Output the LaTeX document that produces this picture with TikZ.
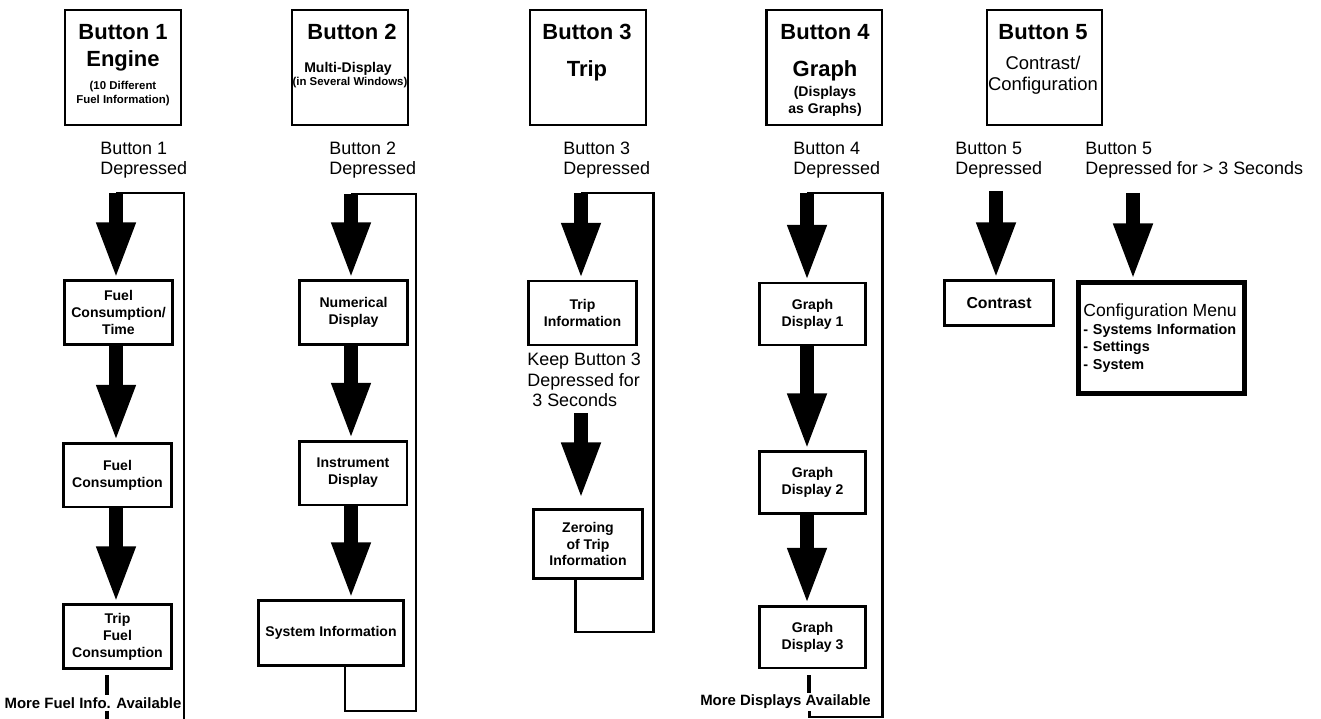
\documentclass[tikz,border=0pt]{standalone}
\usepackage{fontspec}
\setmainfont{Liberation Sans}
\usetikzlibrary{arrows.meta,positioning,calc}
\tikzset{
  titlebox/.style={draw,line width=1.4pt,minimum width=2.31cm,minimum height=2.29cm},
  headtxt/.style={font=\fontsize{12.5}{14}\selectfont\bfseries,inner sep=0pt},
  subtxt/.style={align=center,font=\fontsize{6.5}{8}\selectfont\bfseries,inner sep=0pt},
  presstxt/.style={anchor=west,align=left,font=\fontsize{10.2}{11.5}\selectfont,inner sep=0pt},
  stepbox/.style={draw,line width=1.7pt,fill=white,align=center,
    minimum width=2.16cm,minimum height=1.28cm,inner sep=1pt,
    font=\fontsize{8}{9.6}\selectfont\bfseries},
  menubox/.style={draw,line width=2.8pt,fill=white,align=left,text width=89pt,
    inner xsep=2.5pt,minimum height=63pt,font=\fontsize{8.2}{10}\selectfont\bfseries},
  push/.style={line width=7.6pt,-{Triangle[width=20.4pt,length=32.3pt]}},
  loopline/.style={line width=1.7pt},
  stub/.style={line width=2.4pt},
  moretxt/.style={font=\fontsize{8.5}{10}\selectfont\bfseries,inner sep=1pt}
}

\begin{document}
\begin{tikzpicture}[x=0.02cm,y=-0.02cm]
  \useasboundingbox (0,0) rectangle (1321,719);

  % the five buttons
  \node[titlebox] (t1) at (123,67.5) {};
  \node[headtxt] (t1a) at (123,32) {Button 1};
  \node[headtxt] (t1b) at (123,61) {Engine};
  \node[subtxt] (t1c) at (123,94) {(10 Different\\Fuel Information)};

  \node[titlebox] (t2) at (350,67.5) {};
  \node[headtxt] (t2a) at (352,32) {Button 2};
  \node[subtxt,font=\fontsize{8}{9}\selectfont\bfseries] (t2b) at (348,69) {Multi-Display};
  \node[subtxt] (t2c) at (350,83) {(in Several Windows)};

  \node[titlebox] (t3) at (588,67.5) {};
  \node[headtxt] (t3a) at (587,32) {Button 3};
  \node[headtxt] (t3b) at (587,71) {Trip};

  \node[titlebox] (t4) at (824,67.5) {};
  \node[headtxt] (t4a) at (825,32) {Button 4};
  \node[headtxt] (t4b) at (825,71) {Graph};
  \node[subtxt,font=\fontsize{8}{9.6}\selectfont\bfseries] (t4c) at (825,101) {(Displays\\as Graphs)};

  \node[titlebox] (t5) at (1044.5,67.5) {};
  \node[headtxt] (t5a) at (1043,32) {Button 5};
  \node[subtxt,font=\fontsize{10.5}{12}\selectfont] (t5b) at (1043,75) {Contrast/\\Configuration};

  % what is pressed
  \node[presstxt] (p1) at (100,160) {Button 1\\Depressed};
  \node[presstxt] (p2) at (329,160) {Button 2\\Depressed};
  \node[presstxt] (p3) at (563,160) {Button 3\\Depressed};
  \node[presstxt] (p4) at (793,160) {Button 4\\Depressed};
  \node[presstxt] (p5) at (955,160) {Button 5\\Depressed};
  \node[presstxt] (p6) at (1085,160) {Button 5\\Depressed for > 3 Seconds};

  % screens
  \node[stepbox] (f1a) at (118.5,312.5) {Fuel\\Consumption/\\Time};
  \node[stepbox] (f1b) at (117.5,475) {Fuel\\Consumption};
  \node[stepbox] (f1c) at (117.5,636.5) {Trip\\Fuel\\Consumption};
  \node[moretxt] (m1) at (93,703) {More Fuel Info. Available};

  \node[stepbox] (f2a) at (353.5,312.5) {Numerical\\Display};
  \node[stepbox] (f2b) at (353,473) {Instrument\\Display};
  \node[stepbox,minimum width=2.9cm,minimum height=1.3cm] (f2c) at (331,633) {System Information};

  \node[stepbox] (f3a) at (582.5,313) {Trip\\Information};
  \node[presstxt] (k3t) at (527,380) {Keep Button 3\\Depressed for\\\ 3 Seconds};
  \node[stepbox,minimum width=2.18cm,minimum height=1.38cm] (f3b) at (588,544) {Zeroing\\of Trip\\Information};

  \node[stepbox,minimum width=2.12cm,minimum height=1.24cm] (g1) at (812.5,314) {Graph\\Display 1};
  \node[stepbox,minimum width=2.12cm,minimum height=1.24cm] (g2) at (812.5,482.5) {Graph\\Display 2};
  \node[stepbox,minimum width=2.12cm,minimum height=1.24cm] (g3) at (812.5,637) {Graph\\Display 3};
  \node[moretxt] (m4) at (785.5,702) {More Displays Available};

  \node[stepbox,minimum width=2.18cm,minimum height=0.9cm,font=\fontsize{9}{10}\selectfont\bfseries] (cb) at (999,303) {Contrast};
  \node[menubox] (cfg) at (1161.5,338) {{\fontsize{10}{10}\selectfont\mdseries Configuration Menu}\\- Systems Information\\- Settings\\- System};

  % return loops
  \coordinate (c1) at (116,193);
  \coordinate (c2) at (351,194);
  \coordinate (c3) at (581,193);
  \coordinate (c4) at (807,193);
  \coordinate (c5) at (996,191);
  \coordinate (c6) at (1133,193);
  \coordinate (e1) at (184,719);
  \coordinate (o2) at (345,667);
  \coordinate (r2) at (416,711);
  \coordinate (o3) at (575,580);
  \coordinate (r3) at (653,632);
  \coordinate (s4) at (809,675);
  \coordinate (r4) at (882,717);
  \coordinate (s1) at (107,675);
  \coordinate (e0) at (107,719);
  \coordinate (k3) at (581,413);

  \draw[loopline] (c1) -| (e1);
  \draw[loopline] (o2) |- (r2) |- (c2);
  \draw[loopline] (o3) |- (r3) |- (c3);
  \draw[loopline] (s4 |- m4.south) |- (r4) |- (c4);

  \draw[stub] (s1) -- (s1 |- m1.north);
  \draw[stub] (s1 |- m1.south) -- (e0);
  \draw[stub] (s4) -- (s4 |- m4.north);

  % big arrows
  \draw[push] (c1) -- (c1 |- f1a.north);
  \draw[push] (c1 |- f1a.south) -- (c1 |- f1b.north);
  \draw[push] (c1 |- f1b.south) -- (c1 |- f1c.north);

  \draw[push] (c2) -- (c2 |- f2a.north);
  \draw[push] (c2 |- f2a.south) -- (c2 |- f2b.north);
  \draw[push] (c2 |- f2b.south) -- (c2 |- f2c.north);

  \draw[push] (c3) -- (c3 |- f3a.north);
  \draw[push,shorten >=5pt] (k3) -- (k3 |- f3b.north);

  \draw[push] (c4) -- (c4 |- g1.north);
  \draw[push] (c4 |- g1.south) -- (c4 |- g2.north);
  \draw[push] (c4 |- g2.south) -- (c4 |- g3.north);

  \draw[push] (c5) -- (c5 |- cb.north);
  \draw[push] (c6) -- (c6 |- cfg.north);
\end{tikzpicture}
\end{document}
